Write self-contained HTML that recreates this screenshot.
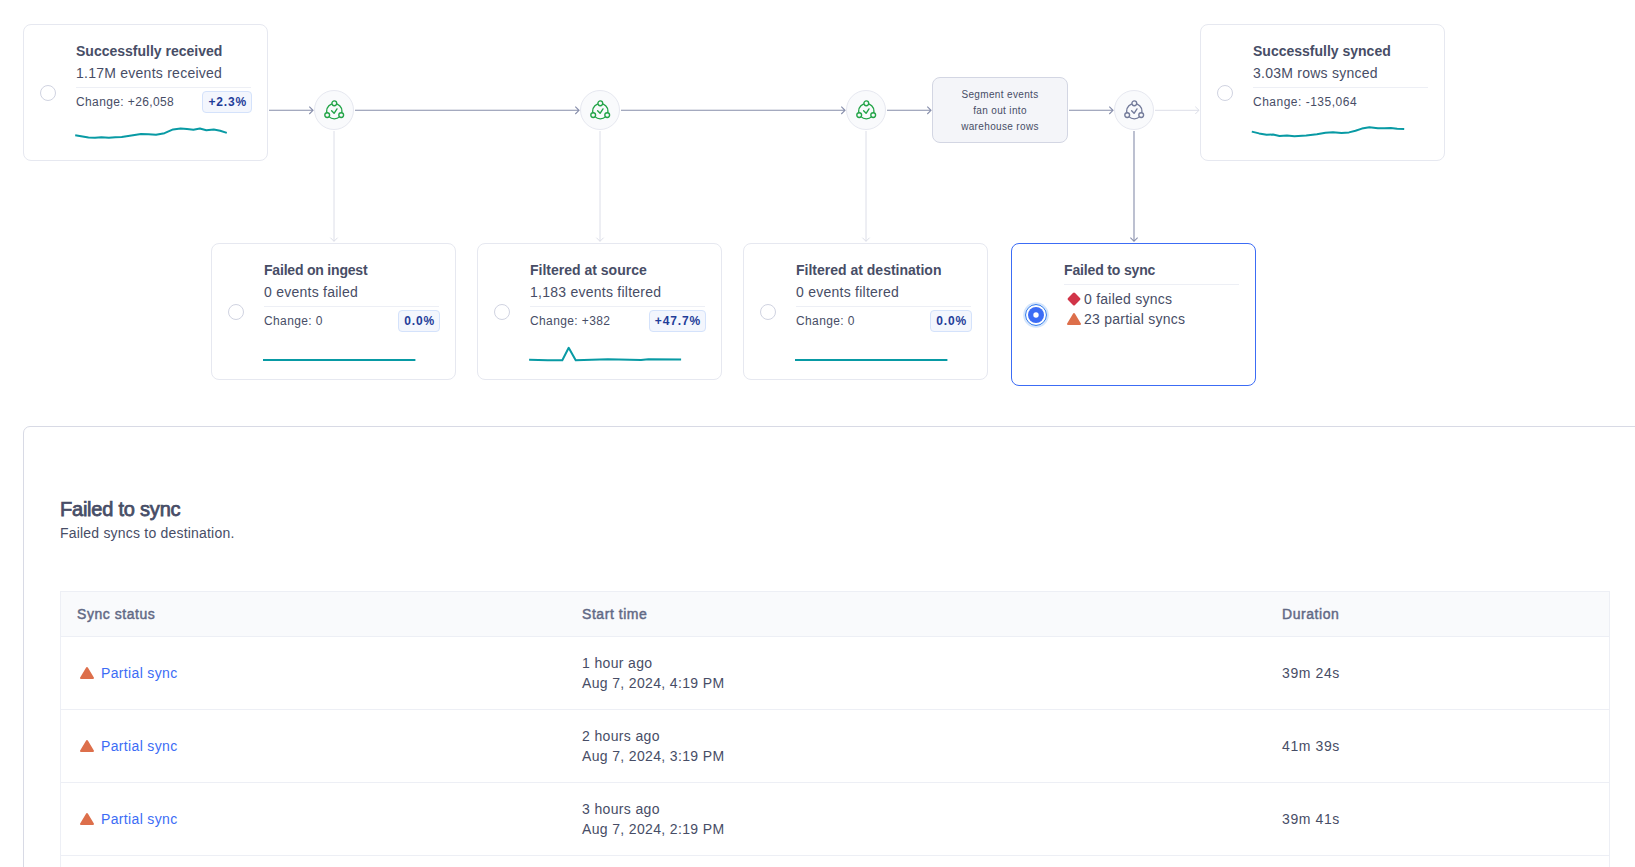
<!DOCTYPE html>
<html lang="en">
<head>
<meta charset="utf-8">
<title>Failed to sync</title>
<style>
html,body{margin:0;padding:0;background:#fff;}
body{width:1635px;height:867px;position:relative;overflow:hidden;font-family:"Liberation Sans",sans-serif;color:#474d66;-webkit-font-smoothing:antialiased;}
.abs{position:absolute;}
.card{position:absolute;box-sizing:border-box;width:245px;height:137px;border:1px solid #e6e8f0;border-radius:8px;background:#fff;}
.card.sel{border-color:#3c6cf5;height:143px;}
.t{position:absolute;white-space:nowrap;line-height:16px;}
.title{font-weight:700;font-size:14px;color:#474d66;left:52px;top:18px;letter-spacing:0;}
.sub{font-size:14px;color:#474d66;left:52px;top:40px;letter-spacing:.25px;}
.sep{position:absolute;left:52px;top:62px;width:175px;height:1px;background:#edeff5;}
.chg{font-size:12px;color:#474d66;left:52px;top:69px;letter-spacing:.38px;}
.badge{position:absolute;box-sizing:border-box;right:15px;top:66px;height:22px;line-height:20px;padding:0 4px 0 5px;border:1px solid #d4e2fb;border-radius:4px;background:#f3f6fd;color:#1f3d99;font-weight:700;font-size:12px;letter-spacing:.85px;white-space:nowrap;}
.radio{position:absolute;box-sizing:border-box;left:16px;top:60px;width:16px;height:16px;border-radius:50%;border:1px solid #d0d3e1;background:#fff;}
.node{position:absolute;box-sizing:border-box;width:40px;height:40px;border-radius:50%;border:1px solid #e6e8f0;background:#f9fafc;}
.seg{position:absolute;box-sizing:border-box;left:932px;top:77px;width:136px;height:66px;border:1px solid #d3d6e3;border-radius:8px;background:#f4f5f9;font-size:10px;line-height:16px;text-align:center;color:#474d66;letter-spacing:.35px;}
.sl{left:0;width:134px;text-align:center;}
.panel{position:absolute;box-sizing:border-box;left:23px;top:426px;width:1700px;height:500px;border:1px solid #d8dae5;border-radius:7px;background:#fff;}
.h2{position:absolute;left:60px;top:497px;font-size:20px;line-height:24px;font-weight:400;color:#474d66;-webkit-text-stroke:.75px #474d66;letter-spacing:-.22px;white-space:nowrap;}
.p{position:absolute;left:60px;top:525px;font-size:14px;line-height:16px;color:#474d66;letter-spacing:.2px;white-space:nowrap;}
.table{position:absolute;box-sizing:border-box;left:60px;top:591px;width:1550px;height:300px;border:1px solid #edeff5;}
.thead{position:absolute;left:0;top:0;width:100%;height:44px;background:#f9fafc;border-bottom:1px solid #edeff5;}
.th{position:absolute;top:14px;font-size:14px;line-height:16px;font-weight:400;color:#626985;-webkit-text-stroke:.45px #626985;letter-spacing:.55px;white-space:nowrap;}
.row{position:absolute;left:0;width:100%;height:72px;border-bottom:1px solid #edeff5;}
.td{position:absolute;font-size:14px;line-height:16px;color:#474d66;letter-spacing:.35px;white-space:nowrap;}
.link{color:#3c6cf5;}
svg{position:absolute;left:0;top:0;overflow:visible;}
</style>
</head>
<body>

<!-- connectors -->
<svg width="1635" height="867" viewBox="0 0 1635 867" fill="none">
  <g stroke="#878eab" stroke-width="1.1">
    <path d="M269 110.3H313M309.3 106.7L313 110.3L309.3 114"/>
    <path d="M355 110.3H579M575.3 106.7L579 110.3L575.3 114"/>
    <path d="M621 110.3H845M841.3 106.7L845 110.3L841.3 114"/>
    <path d="M887 110.3H931M927.3 106.7L931 110.3L927.3 114"/>
    <path d="M1069 110.3H1113M1109.3 106.7L1113 110.3L1109.3 114"/>
    <path d="M1134 131V241.3M1130.4 237.7L1134 241.3L1137.6 237.7"/>
  </g>
  <g stroke="#dcdee8" stroke-width="1">
    <path d="M1155 110.3H1199M1195.3 106.7L1199 110.3L1195.3 114"/>
    <path d="M334 131V241.3M330.4 237.7L334 241.3L337.6 237.7"/>
    <path d="M600 131V241.3M596.4 237.7L600 241.3L603.6 237.7"/>
    <path d="M866 131V241.3M862.4 237.7L866 241.3L869.6 237.7"/>
  </g>
</svg>

<!-- top cards -->
<div class="card" style="left:23px;top:24px;">
  <div class="radio"></div>
  <div class="t title">Successfully received</div>
  <div class="t sub">1.17M events received</div>
  <div class="sep"></div>
  <div class="t chg">Change: +26,058</div>
  <div class="badge">+2.3%</div>
</div>

<div class="card" style="left:1200px;top:24px;">
  <div class="radio"></div>
  <div class="t title">Successfully synced</div>
  <div class="t sub">3.03M rows synced</div>
  <div class="sep"></div>
  <div class="t chg" style="letter-spacing:.5px">Change: -135,064</div>
</div>

<!-- nodes -->
<div class="node" style="left:314px;top:90px;"></div>
<div class="node" style="left:580px;top:90px;"></div>
<div class="node" style="left:846px;top:90px;"></div>
<div class="node" style="left:1114px;top:90px;"></div>

<div class="seg"><div class="t sl" style="top:9px">Segment events</div><div class="t sl" style="top:25px">fan out into</div><div class="t sl" style="top:41px">warehouse rows</div></div>

<!-- bottom cards -->
<div class="card" style="left:211px;top:243px;">
  <div class="radio"></div>
  <div class="t title" style="letter-spacing:-.2px">Failed on ingest</div>
  <div class="t sub">0 events failed</div>
  <div class="sep"></div>
  <div class="t chg">Change: 0</div>
  <div class="badge">0.0%</div>
</div>
<div class="card" style="left:477px;top:243px;">
  <div class="radio"></div>
  <div class="t title">Filtered at source</div>
  <div class="t sub">1,183 events filtered</div>
  <div class="sep"></div>
  <div class="t chg">Change: +382</div>
  <div class="badge">+47.7%</div>
</div>
<div class="card" style="left:743px;top:243px;">
  <div class="radio"></div>
  <div class="t title">Filtered at destination</div>
  <div class="t sub">0 events filtered</div>
  <div class="sep"></div>
  <div class="t chg">Change: 0</div>
  <div class="badge">0.0%</div>
</div>
<div class="card sel" style="left:1011px;top:243px;">
  <div class="t title" style="letter-spacing:-.15px">Failed to sync</div>
  <div class="sep" style="top:40px;"></div>
  <div class="t sub" style="left:72px;top:47px;">0 failed syncs</div>
  <div class="t sub" style="left:72px;top:67px;">23 partial syncs</div>
</div>

<!-- icons / sparklines -->
<svg width="1635" height="867" viewBox="0 0 1635 867" fill="none">
  <g transform="translate(324.3 100.2)" fill="none" stroke="#22a447" stroke-width="1.35" stroke-linecap="round" stroke-linejoin="round">
    <circle cx="10" cy="11" r="7.65"/>
    <circle cx="10" cy="3.1" r="2.4" fill="#f9fafc"/>
    <circle cx="2.9" cy="14.9" r="2.4" fill="#f9fafc"/>
    <circle cx="16.9" cy="14.9" r="2.4" fill="#f9fafc"/>
    <path d="M7.3 10.5L9.8 13.1L12.7 8.7"/>
  </g>
  <g transform="translate(590.3 100.2)" fill="none" stroke="#22a447" stroke-width="1.35" stroke-linecap="round" stroke-linejoin="round">
    <circle cx="10" cy="11" r="7.65"/>
    <circle cx="10" cy="3.1" r="2.4" fill="#f9fafc"/>
    <circle cx="2.9" cy="14.9" r="2.4" fill="#f9fafc"/>
    <circle cx="16.9" cy="14.9" r="2.4" fill="#f9fafc"/>
    <path d="M7.3 10.5L9.8 13.1L12.7 8.7"/>
  </g>
  <g transform="translate(856.3 100.2)" fill="none" stroke="#22a447" stroke-width="1.35" stroke-linecap="round" stroke-linejoin="round">
    <circle cx="10" cy="11" r="7.65"/>
    <circle cx="10" cy="3.1" r="2.4" fill="#f9fafc"/>
    <circle cx="2.9" cy="14.9" r="2.4" fill="#f9fafc"/>
    <circle cx="16.9" cy="14.9" r="2.4" fill="#f9fafc"/>
    <path d="M7.3 10.5L9.8 13.1L12.7 8.7"/>
  </g>
  <g transform="translate(1124.3 100.2)" fill="none" stroke="#737b9a" stroke-width="1.35" stroke-linecap="round" stroke-linejoin="round">
    <circle cx="10" cy="11" r="7.65"/>
    <circle cx="10" cy="3.1" r="2.4" fill="#f9fafc"/>
    <circle cx="2.9" cy="14.9" r="2.4" fill="#f9fafc"/>
    <circle cx="16.9" cy="14.9" r="2.4" fill="#f9fafc"/>
    <path d="M7.3 10.5L9.8 13.1L12.7 8.7"/>
  </g>

  <g stroke="#089aa4" stroke-width="2" stroke-linejoin="round" stroke-linecap="butt">
    <path d="M75.2 135.3L88.5 137.5L95 137.8L101.4 137.3L108.9 137.8L115.3 137.2L121.7 137L131.4 135.5L141 134L148.5 134.3L156 134.7L164.5 133.2L173.1 129.4L180.6 128.5L187 129.1L193.4 129.8L199.9 128.5L206.3 130.3L213.8 129.6L220.2 130.8L226.8 132.9"/>
    <path d="M1251.8 131.6L1259.1 133.4L1266.6 134.7L1273 134.6L1279.5 136L1287 135.6L1294.4 136.2L1306.2 135.6L1316.9 134.3L1325.5 132.8L1333 132.3L1341.5 133L1349 132.4L1355.5 130.8L1361.9 128.6L1369.4 127.2L1377.9 128.3L1384.4 128.3L1390.8 128L1397.2 128.7L1404.2 129"/>
    <path d="M263 360H415.4"/>
    <path d="M529.1 359.7L547.8 360.3L562.3 360.2L568.7 347.8L575.7 360.3L607.8 359.3L641 359.9L648.4 359.3L681.1 359.6"/>
    <path d="M795 360H947.4"/>
  </g>

  <!-- selected radio -->
  <circle cx="1036" cy="315" r="11.9" fill="none" stroke="#d3e5fc" stroke-width="1.8"/>
  <circle cx="1036" cy="315" r="10.45" fill="none" stroke="#1f6feb" stroke-width="0.95"/>
  <circle cx="1036" cy="315" r="8" fill="#3c6cf5"/>
  <circle cx="1036" cy="315" r="2.7" fill="#fff"/>

  <!-- status icons in selected card -->
  <rect x="-4.95" y="-4.95" width="9.9" height="9.9" rx="1.5" transform="translate(1074 299) rotate(45)" fill="#d13448"/>
  <path d="M1074 314L1080 324H1068Z" fill="#dd6f4b" stroke="#dd6f4b" stroke-width="2" stroke-linejoin="round"/>
</svg>

<!-- panel -->
<div class="panel"></div>
<div class="h2">Failed to sync</div>
<div class="p">Failed syncs to destination.</div>

<div class="table">
  <div class="thead">
    <div class="th" style="left:16px;">Sync status</div>
    <div class="th" style="left:521px;">Start time</div>
    <div class="th" style="left:1221px;">Duration</div>
  </div>
  <div class="row" style="top:45px;">
    <div class="td link" style="left:40px;top:28px;">Partial sync</div>
    <div class="td" style="left:521px;top:18px;">1 hour ago</div>
    <div class="td" style="left:521px;top:38px;">Aug 7, 2024, 4:19 PM</div>
    <div class="td" style="left:1221px;top:28px;letter-spacing:.6px;">39m 24s</div>
  </div>
  <div class="row" style="top:118px;">
    <div class="td link" style="left:40px;top:28px;">Partial sync</div>
    <div class="td" style="left:521px;top:18px;">2 hours ago</div>
    <div class="td" style="left:521px;top:38px;">Aug 7, 2024, 3:19 PM</div>
    <div class="td" style="left:1221px;top:28px;letter-spacing:.6px;">41m 39s</div>
  </div>
  <div class="row" style="top:191px;">
    <div class="td link" style="left:40px;top:28px;">Partial sync</div>
    <div class="td" style="left:521px;top:18px;">3 hours ago</div>
    <div class="td" style="left:521px;top:38px;">Aug 7, 2024, 2:19 PM</div>
    <div class="td" style="left:1221px;top:28px;letter-spacing:.6px;">39m 41s</div>
  </div>
</div>

<svg width="1635" height="867" viewBox="0 0 1635 867" fill="none">
  <g fill="#dd6f4b" stroke="#dd6f4b" stroke-width="2" stroke-linejoin="round">
    <path d="M87 668L93 678H81Z"/>
    <path d="M87 741L93 751H81Z"/>
    <path d="M87 814L93 824H81Z"/>
  </g>
</svg>

</body>
</html>
